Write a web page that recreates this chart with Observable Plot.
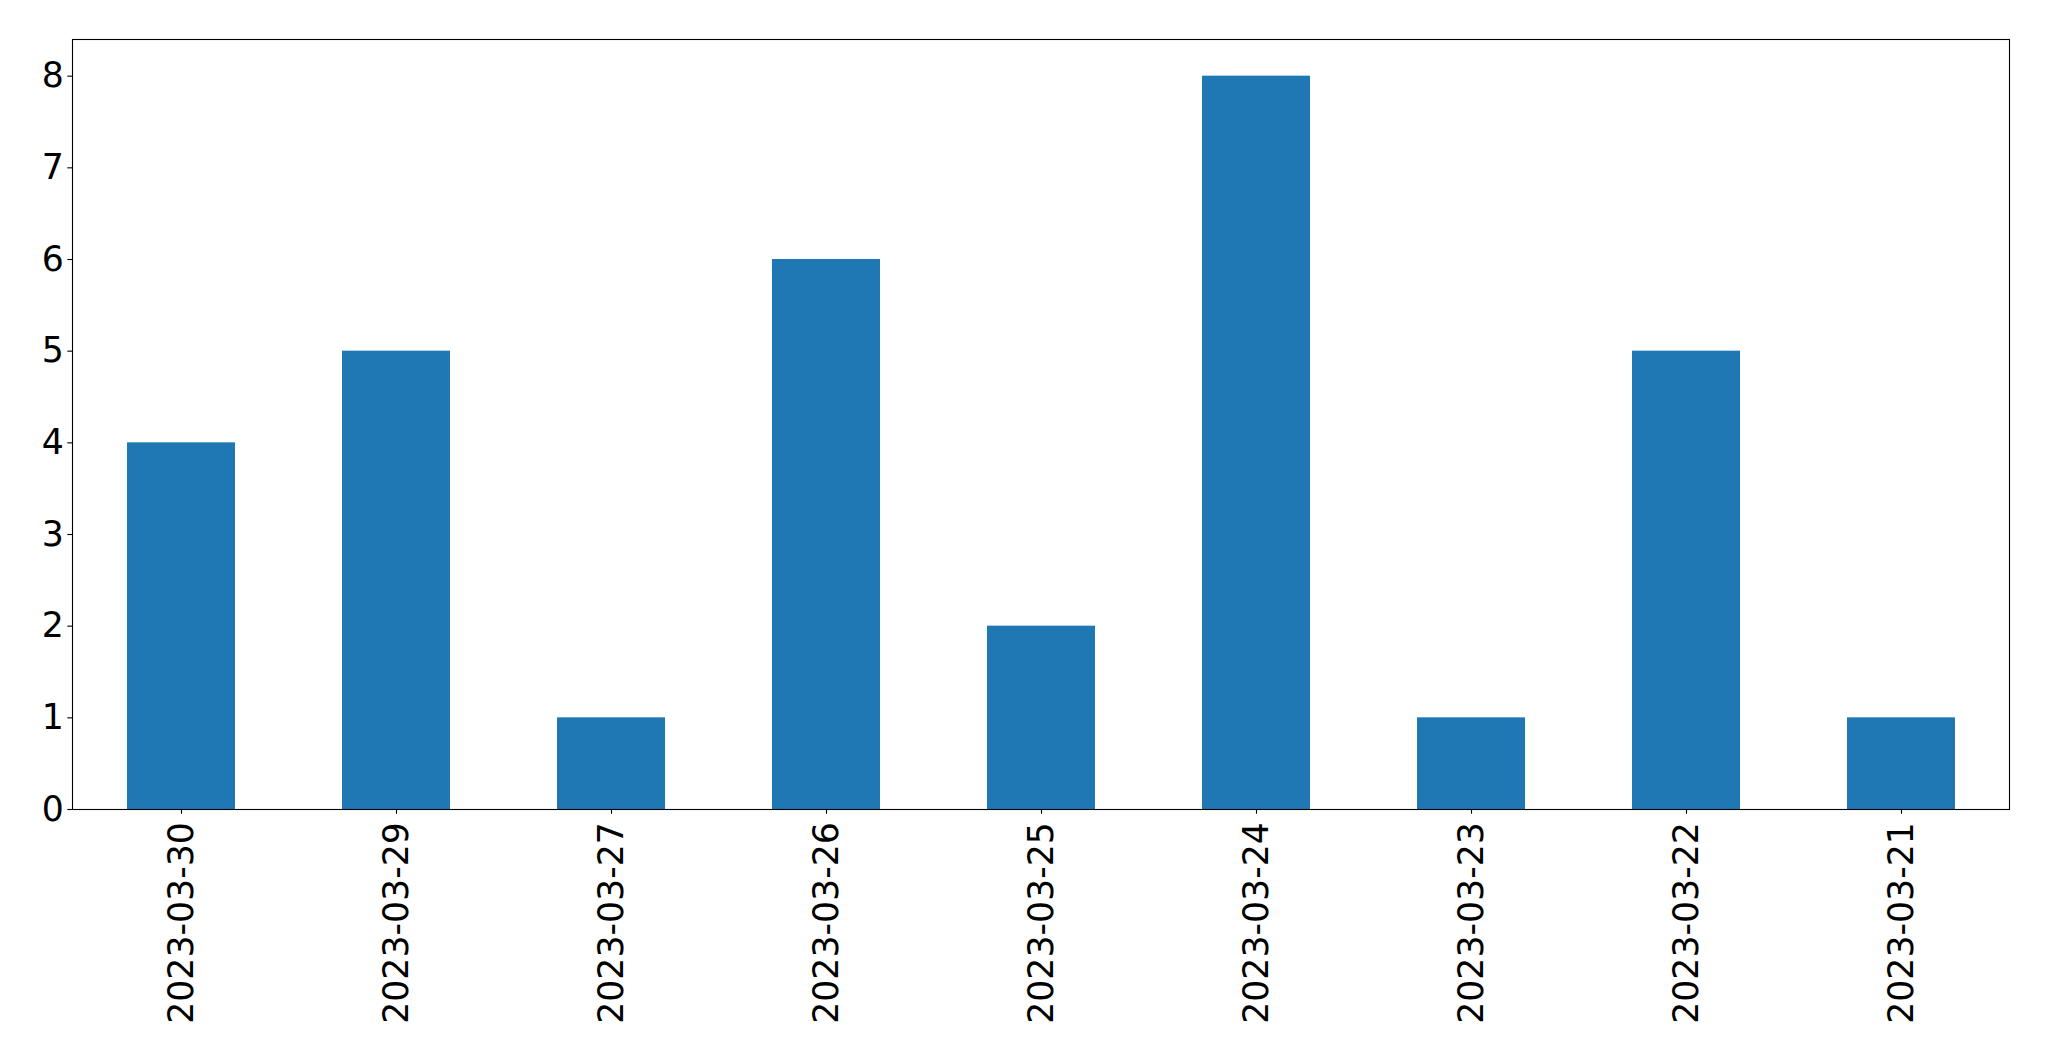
<!DOCTYPE html>
<html>
<head>
<meta charset="utf-8">
<script src="https://cdn.jsdelivr.net/npm/d3@7"></script>
<script src="https://cdn.jsdelivr.net/npm/@observablehq/plot@0.6"></script>
<style>
  html, body { margin: 0; padding: 0; background: #fff; }
  svg { display: block; }
</style>
</head>
<body>
<div id="chart"></div>
<script>
const dates = ["2023-03-30","2023-03-29","2023-03-27","2023-03-26","2023-03-25","2023-03-24","2023-03-23","2023-03-22","2023-03-21"];
const counts = [4, 5, 1, 6, 2, 8, 1, 5, 1];
const yTicks = [0, 1, 2, 3, 4, 5, 6, 7, 8];

const data = dates.map((d, i) => ({date: d, count: counts[i]}));

const chart = Plot.plot({
  width: 2049,
  height: 1061,
  marginLeft: 72,
  marginRight: 40,
  marginTop: 39,
  marginBottom: 252,
  style: {fontFamily: "DejaVu Sans", fontSize: "34.7px", color: "#000", background: "#fff"},
  x: {domain: dates, paddingInner: 0.5, paddingOuter: 0.25, label: null},
  y: {domain: [0, 8.4], label: null},
  marks: [
    Plot.barY(data, {x: "date", y: "count", fill: "#1f77b4"}),
    Plot.frame({stroke: "#000", strokeWidth: 1.1}),
    Plot.axisY({ticks: yTicks, tickSize: 4.7, tickPadding: 4, tickFormat: d => d, label: null, fontSize: 34.7, stroke: "#000", strokeWidth: 1.1}),
    Plot.axisX({tickSize: 4.7, tickPadding: 8, tickRotate: -90, label: null, fontSize: 34.7, stroke: "#000", strokeWidth: 1.1})
  ]
});
document.getElementById("chart").appendChild(chart);
</script>
</body>
</html>
